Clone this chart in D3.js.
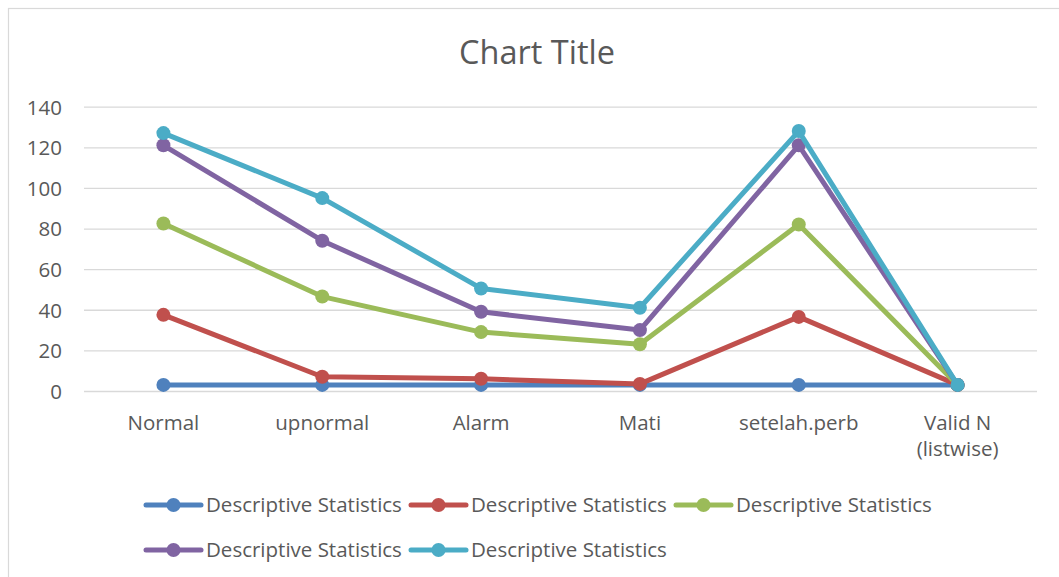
<!DOCTYPE html>
<html><head><meta charset="utf-8">
<script src="https://cdn.jsdelivr.net/npm/d3@7"></script>
<style>
html,body{margin:0;padding:0;background:#fff;}
text{font-family:"Open Sans",Lato,sans-serif;fill:#595959;}
</style></head>
<body>
<svg id="chart" width="1059" height="577"></svg>
<script>
const categories = ["Normal", "upnormal", "Alarm", "Mati", "setelah.perb", "Valid N\n(listwise)"];
const seriesNames = ["Descriptive Statistics", "Descriptive Statistics", "Descriptive Statistics", "Descriptive Statistics", "Descriptive Statistics"];
const series1 = [3, 3, 3, 3, 3, 3];
const series2 = [37.5, 7, 6, 3.5, 36.5, 3];
const series3 = [82.5, 46.5, 29, 23, 82, 3];
const series4 = [121, 74, 39, 30, 121, 3];
const series5 = [127, 95, 50.5, 41, 128, 3];
const yTicks = [0, 20, 40, 60, 80, 100, 120, 140];
const colors = ["#4F81BD", "#C0504D", "#9BBB59", "#8064A2", "#4BACC6"];
const allSeries = [series1, series2, series3, series4, series5];

const svg = d3.select("#chart");
svg.append("rect").attr("x", 8.5).attr("y", 8.5).attr("width", 1060).attr("height", 580)
  .attr("fill", "#fff").attr("stroke", "#D9D9D9").attr("stroke-width", 1.2);

const x = d3.scaleBand().domain(categories).range([84, 1037]);
const y = d3.scaleLinear().domain([0, 140]).range([391, 106.7]);

svg.append("text").attr("x", 537).attr("y", 63.5).attr("text-anchor", "middle")
  .style("font-size", "32.5px").text("Chart Title");

// grid
const yAxis = d3.axisLeft(y).tickValues(yTicks).tickSize(-(1037 - 84)).tickPadding(22);
const gy = svg.append("g").attr("transform", "translate(84,0)").call(yAxis);
gy.select(".domain").remove();
gy.selectAll(".tick line").attr("stroke", "#D9D9D9").attr("stroke-width", 1.3);
gy.selectAll(".tick text").style("font-size", "20.5px").style("font-family", "'Open Sans',sans-serif").attr("fill", "#595959").attr("dy", "0.36em");

// x labels
const xl = svg.append("g");
categories.forEach(c => {
  const lines = c.split("\n");
  lines.forEach((l, i) => xl.append("text").attr("x", x(c) + x.bandwidth() / 2).attr("y", 430 + i * 26)
    .attr("text-anchor", "middle").style("font-size", "20.5px").text(l));
});

const line = d3.line().x((d, i) => x(categories[i]) + x.bandwidth() / 2).y(d => y(d));
allSeries.forEach((s, k) => {
  const g = svg.append("g");
  g.append("path").datum(s).attr("d", line).attr("fill", "none")
    .attr("stroke", colors[k]).attr("stroke-width", 5).attr("stroke-linejoin", "round");
  g.selectAll("circle").data(s).join("circle")
    .attr("cx", (d, i) => x(categories[i]) + x.bandwidth() / 2).attr("cy", d => y(d))
    .attr("r", 7).attr("fill", colors[k]);
});

// legend
const legendPos = [[146, 505], [411, 505], [676, 505], [146, 550], [411, 550]];
seriesNames.forEach((n, k) => {
  const [lx, ly] = legendPos[k];
  const g = svg.append("g");
  g.append("line").attr("x1", lx).attr("x2", lx + 55).attr("y1", ly).attr("y2", ly)
    .attr("stroke", colors[k]).attr("stroke-width", 5).attr("stroke-linecap", "round");
  g.append("circle").attr("cx", lx + 27.5).attr("cy", ly).attr("r", 7).attr("fill", colors[k]);
  g.append("text").attr("x", lx + 60).attr("y", ly).attr("dy", "0.36em").style("font-size", "20.5px").text(n);
});
</script>
</body></html>
